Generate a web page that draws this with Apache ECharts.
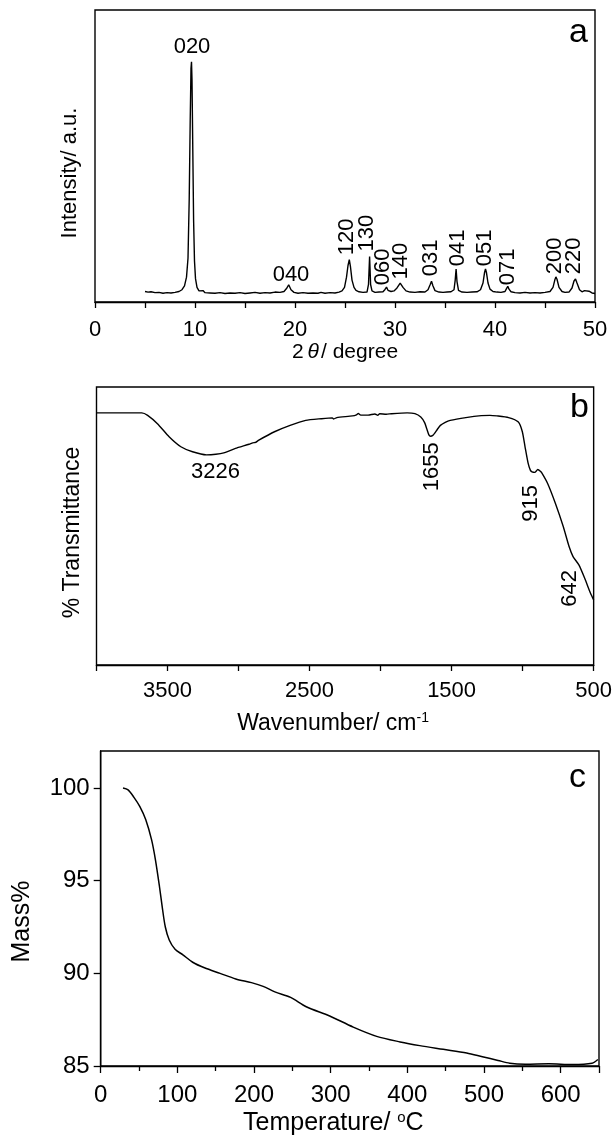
<!DOCTYPE html>
<html>
<head>
<meta charset="utf-8">
<script src="https://cdn.jsdelivr.net/npm/echarts@6/dist/echarts.min.js"></script>
<style>
  html, body { margin: 0; padding: 0; background: #fff; }
  #chart { width: 615px; height: 1138px; }
</style>
</head>
<body>
<div id="chart"></div>
<script>
// (a) XRD pattern, 2theta / intensity (0-100 scale of the panel)
var xrdPoints = [
  [5.0,3.6],[5.3,3.4],[5.6,3.5],[6.0,3.2],[6.4,3.3],[6.8,3.0],[7.2,3.2],[7.6,3.1],[8.0,3.3],[8.4,3.6],
  [8.7,4.2],[8.95,5.5],[9.15,8.5],[9.3,15],[9.42,35],[9.52,62],[9.6,80],[9.65,82.3],[9.7,76],[9.78,52],
  [9.86,28],[9.95,14],[10.05,8],[10.2,5],[10.4,3.8],[10.6,3.4],[10.8,3.9],[11.0,3.2],[11.5,3.1],[12.0,3.0],
  [12.5,3.2],[13.0,2.9],[13.5,3.1],[14.0,3.0],[14.5,3.2],[15.0,2.9],[15.5,3.1],[16.0,3.3],[16.5,3.0],[17.0,3.2],
  [17.5,3.1],[18.0,3.4],[18.5,3.3],[18.9,3.6],[19.15,4.6],[19.37,5.9],[19.6,4.2],[19.9,3.3],[20.3,3.0],[20.8,3.2],
  [21.3,3.0],[21.8,3.1],[22.3,3.0],[22.6,3.3],[23.0,3.0],[23.5,3.2],[24.0,3.1],[24.4,3.4],[24.7,3.8],[24.95,5.0],
  [25.15,8.5],[25.3,12.5],[25.43,14.5],[25.55,12],[25.7,7.5],[25.9,5.0],[26.1,4.0],[26.4,3.5],[26.8,3.3],[27.2,3.4],
  [27.35,6],[27.46,15.6],[27.56,6],[27.7,3.8],[28.0,3.3],[28.4,3.4],[28.8,3.5],[29.0,4.3],[29.15,5.1],[29.3,4.0],
  [29.6,3.6],[29.9,3.8],[30.2,4.8],[30.52,6.5],[30.8,5.0],[31.1,3.8],[31.5,3.4],[32.0,3.3],[32.5,3.5],[33.0,3.4],
  [33.3,4.2],[33.5,5.8],[33.65,7.1],[33.8,5.5],[34.0,3.9],[34.4,3.4],[34.8,3.3],[35.2,3.4],[35.6,3.5],[35.9,4.2],
  [36.02,7.5],[36.11,11.3],[36.2,7],[36.35,4.0],[36.7,3.4],[37.2,3.3],[37.7,3.4],[38.2,3.5],[38.55,4.2],[38.8,6.5],
  [38.95,10],[39.05,11.3],[39.15,10],[39.3,6.5],[39.5,4.4],[39.8,3.6],[40.2,3.4],[40.6,3.3],[41.0,3.6],[41.15,4.6],
  [41.28,5.4],[41.4,4.4],[41.6,3.5],[42.0,3.2],[42.5,3.1],[43.0,3.3],[43.5,3.1],[44.0,3.2],[44.5,3.1],[45.0,3.3],
  [45.5,3.6],[45.8,5.0],[45.98,7.5],[46.09,8.6],[46.2,7.8],[46.4,5.0],[46.7,3.6],[47.0,3.3],[47.4,3.4],[47.7,4.8],
  [47.9,7.2],[48.05,7.9],[48.2,6.5],[48.45,4.2],[48.7,3.5],[48.95,3.9],[49.15,4.2],[49.4,3.7],[49.7,3.1],[50.0,2.9]
];
var xrdLabels = ['020', '040', '120', '130', '060', '140', '031', '041', '051', '071', '200', '220'];
var xrdLabelX = [9.7, 19.6, 25.2, 27.2, 28.8, 30.6, 33.6, 36.3, 39.0, 41.3, 46.0, 47.9];
var xrdLabelY = [87.4, 9.2, 22.3, 23.6, 12.0, 14.0, 15.1, 18.5, 18.5, 12.0, 15.8, 15.8];
var xrdTicks = [0, 10, 20, 30, 40, 50];

// (b) FTIR, wavenumber / transmittance (0-100 scale of the panel)
var ftirPoints = [
  [4000,90.7],[3681,90.7],[3640,89.8],[3571,86.8],[3489,82.1],[3406,78.5],[3324,76.7],[3226,75.6],[3160,75.8],
  [3104,76.3],[3022,77.9],[2926,79.4],[2900,79.9],[2880,80.1],[2857,80.9],[2747,83.9],[2637,86.2],[2527,88.0],
  [2417,88.6],[2340,88.9],[2330,88.5],[2308,89.0],[2198,89.6],[2170,90.0],[2157,90.5],[2140,89.9],[2088,89.9],
  [2040,90.3],[2020,89.8],[2006,90.4],[1960,90.2],[1923,90.4],[1813,90.7],[1758,90.4],[1717,89.2],[1690,87.2],
  [1675,85.0],[1660,82.8],[1648,82.3],[1632,82.6],[1620,83.3],[1600,84.8],[1579,86.2],[1545,87.3],[1510,88.0],
  [1400,89.0],[1291,89.7],[1230,89.8],[1181,89.6],[1099,89.0],[1030,87.4],[1002,83.9],[983,78.5],[961,72.5],
  [945,70.0],[934,69.5],[915,69.3],[893,70.3],[875,69.7],[865,69.1],[824,65.3],[769,58.1],[714,49.8],[673,42.6],
  [645,39.0],[604,36.0],[563,31.2],[522,25.8],[500,23.4]
];
var ftirLabels = ['3226', '1655', '915', '642'];
var ftirLabelX = [3162, 1635, 939, 665];
var ftirLabelY = [69.5, 71.3, 58.1, 27.6];
var ftirTicks = [3500, 2500, 1500, 500];

// (c) TGA, temperature / mass %
var tgaPoints = [
  [29.1,100.0],[35.7,99.9],[43.4,99.5],[51.1,99.0],[58.7,98.3],[66.4,97.2],[71.5,96.1],[76.6,94.7],[80.2,93.6],
  [84.3,92.5],[89.4,91.8],[97.0,91.3],[107.2,91.0],[120.0,90.6],[135.3,90.3],[155.7,90.0],[176.2,89.7],
  [196.6,89.5],[211.9,89.3],[227.2,89.0],[247.7,88.7],[268.1,88.2],[298.7,87.7],[329.4,87.1],[360.0,86.6],
  [390.6,86.3],[416.2,86.1],[446.8,85.9],[477.4,85.7],[497.9,85.5],[518.3,85.3],[533.6,85.15],[554.0,85.1],
  [584.7,85.12],[615.3,85.08],[640.9,85.15],[648.5,85.35]
];
var tgaTicksY = [85, 90, 95, 100];

var horizontalLabels = ['020', '040', '3226'];

var font = 'Liberation Sans, Arial, sans-serif';

function labelData(names, xs, ys) {
  return names.map(function (n, i) {
    return {
      value: [xs[i], ys[i]],
      name: n,
      label: { rotate: horizontalLabels.indexOf(n) >= 0 ? 0 : 90 }
    };
  });
}

function showOnly(list) {
  return function (v) { return list.indexOf(v) >= 0 ? String(v) : ''; };
}

function txt(size) {
  return { color: '#000', fontSize: size, fontFamily: font };
}

var blackLine = { show: true, lineStyle: { color: '#000', width: 1.4 } };
var tickStyle = { color: '#000', width: 1.3 };
var letterStyle = { fontSize: 34, fontWeight: 'normal', fontFamily: font, color: '#000' };

var myChart = echarts.init(document.getElementById('chart'));

var option = {
  backgroundColor: '#fff',
  animation: false,
  title: [
    { text: 'a', left: 564, top: 11, textStyle: letterStyle },
    { text: 'b', left: 565, top: 386, textStyle: letterStyle },
    { text: 'c', left: 564, top: 756, textStyle: letterStyle }
  ],
  grid: [
    { left: 95, top: 10, width: 500, height: 292, show: true, borderColor: '#000', borderWidth: 1.4 },
    { left: 96.5, top: 387, width: 498.5, height: 278, show: true, borderColor: '#000', borderWidth: 1.4 },
    { left: 100.7, top: 751, width: 498.3, height: 315, show: true, borderColor: '#000', borderWidth: 1.4 }
  ],
  xAxis: [
    {
      gridIndex: 0, type: 'value', min: 0, max: 50, interval: 10,
      axisLine: blackLine,
      axisTick: { show: true, length: 6, lineStyle: tickStyle },
      minorTick: { show: true, splitNumber: 2, length: 6, lineStyle: tickStyle },
      splitLine: { show: false },
      axisLabel: Object.assign({ margin: 17, formatter: showOnly(xrdTicks) }, txt(22)),
      name: '2{i|θ}/ degree', nameLocation: 'middle', nameGap: 39,
      nameTextStyle: Object.assign({ rich: { i: { fontStyle: 'italic', fontSize: 21, fontFamily: font, color: '#000', padding: [0, 2, 0, 4] } } }, txt(21))
    },
    {
      gridIndex: 1, type: 'value', min: 500, max: 4000, interval: 1000, inverse: true,
      axisLine: blackLine,
      axisTick: { show: true, length: 6, lineStyle: tickStyle },
      minorTick: { show: true, splitNumber: 2, length: 6, lineStyle: tickStyle },
      splitLine: { show: false },
      axisLabel: Object.assign({ margin: 15, formatter: showOnly(ftirTicks) }, txt(22)),
      name: 'Wavenumber/ cm{sup|-1}', nameLocation: 'middle', nameGap: 46,
      nameTextStyle: Object.assign({ padding: [0, 24, 0, 0], rich: { sup: { fontSize: 14, fontFamily: font, color: '#000', padding: [0, 0, 12, 0] } } }, txt(23))
    },
    {
      gridIndex: 2, type: 'value', min: 0, max: 650, interval: 100,
      axisLine: blackLine,
      axisTick: { show: true, length: 7, lineStyle: tickStyle },
      minorTick: { show: true, splitNumber: 2, length: 5, lineStyle: tickStyle },
      splitLine: { show: false },
      axisLabel: Object.assign({ margin: 17 }, txt(24)),
      name: 'Temperature/ {sup|o}C', nameLocation: 'middle', nameGap: 44,
      nameTextStyle: Object.assign({ padding: [0, 33, 0, 0], rich: { sup: { fontSize: 15, fontFamily: font, color: '#000', padding: [0, 0, 12, 0] } } }, txt(25))
    }
  ],
  yAxis: [
    {
      gridIndex: 0, type: 'value', min: 0, max: 100,
      axisLine: { show: false }, axisTick: { show: false }, axisLabel: { show: false }, splitLine: { show: false },
      name: 'Intensity/ a.u.', nameLocation: 'middle', nameGap: 14,
      nameTextStyle: Object.assign({ padding: [0, 34, 0, 0] }, txt(22))
    },
    {
      gridIndex: 1, type: 'value', min: 0, max: 100,
      axisLine: { show: false }, axisTick: { show: false }, axisLabel: { show: false }, splitLine: { show: false },
      name: '% Transmittance', nameLocation: 'middle', nameGap: 12,
      nameTextStyle: Object.assign({ padding: [0, 13, 0, 0] }, txt(23))
    },
    {
      gridIndex: 2, type: 'value', min: 85, max: 102, interval: 5,
      axisLine: blackLine,
      axisTick: { show: true, length: 7, lineStyle: tickStyle, customValues: tgaTicksY },
      splitLine: { show: false },
      axisLabel: Object.assign({ margin: 11, formatter: showOnly(tgaTicksY), customValues: tgaTicksY }, txt(24)),
      name: 'Mass%', nameLocation: 'middle', nameGap: 66,
      nameTextStyle: Object.assign({ padding: [0, 26, 0, 0] }, txt(25))
    }
  ],
  series: [
    {
      type: 'line', xAxisIndex: 0, yAxisIndex: 0, data: xrdPoints, showSymbol: false,
      lineStyle: { color: '#000', width: 1.4 }
    },
    {
      type: 'scatter', xAxisIndex: 0, yAxisIndex: 0, symbolSize: 1,
      itemStyle: { color: 'rgba(0,0,0,0)', opacity: 1 },
      data: labelData(xrdLabels, xrdLabelX, xrdLabelY),
      label: { show: true, position: 'inside', formatter: '{b}', color: '#000', opacity: 1, fontSize: 22, fontFamily: font }
    },
    {
      type: 'line', xAxisIndex: 1, yAxisIndex: 1, data: ftirPoints, showSymbol: false, smooth: 0.2,
      lineStyle: { color: '#000', width: 1.4 }
    },
    {
      type: 'scatter', xAxisIndex: 1, yAxisIndex: 1, symbolSize: 1,
      itemStyle: { color: 'rgba(0,0,0,0)', opacity: 1 },
      data: labelData(ftirLabels, ftirLabelX, ftirLabelY),
      label: { show: true, position: 'inside', formatter: '{b}', color: '#000', opacity: 1, fontSize: 22, fontFamily: font }
    },
    {
      type: 'line', xAxisIndex: 2, yAxisIndex: 2, data: tgaPoints, showSymbol: false, smooth: 0.3,
      lineStyle: { color: '#000', width: 1.5 }
    }
  ]
};

myChart.setOption(option);
</script>
</body>
</html>
